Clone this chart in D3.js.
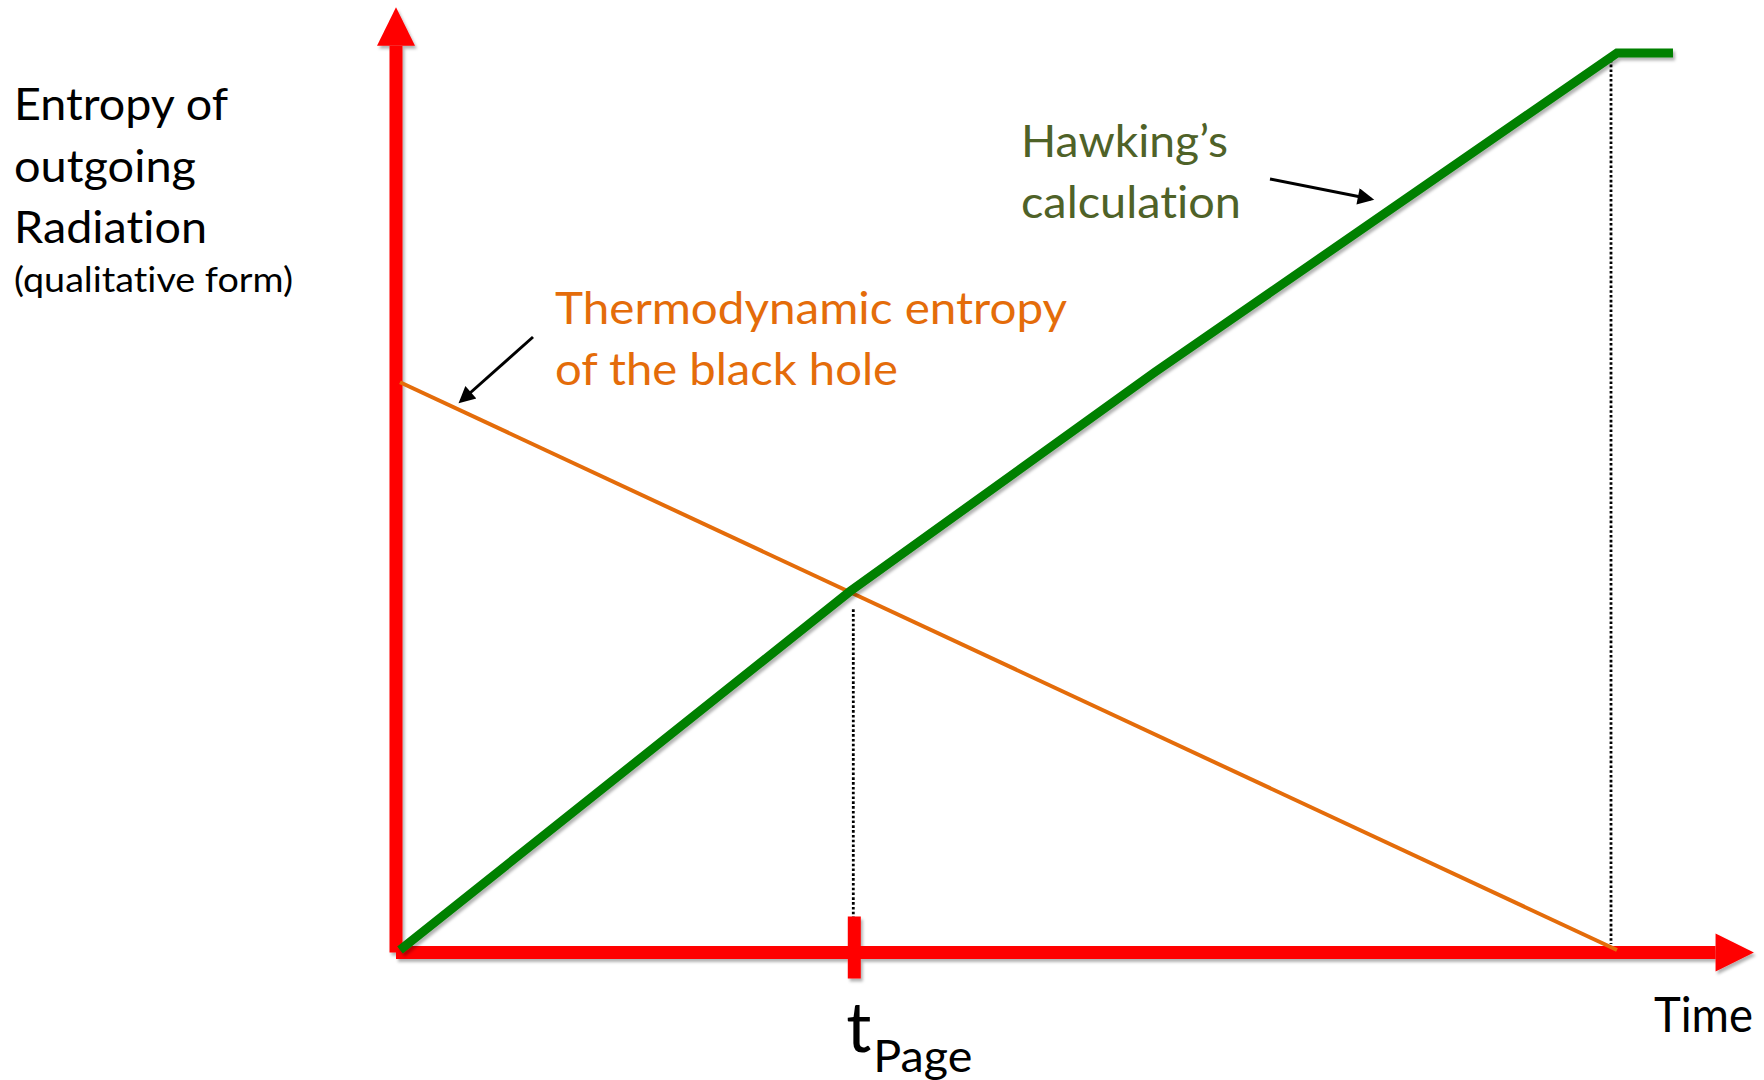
<!DOCTYPE html>
<html>
<head>
<meta charset="utf-8">
<script src="https://cdn.jsdelivr.net/npm/d3@7"></script>
<style>
    body { margin: 0; background: #fff; }
    svg { display: block; font-family: Lato, 'Open Sans', sans-serif; }
    text { font-variant-ligatures: none; font-feature-settings: 'liga' 0, 'clig' 0; }
</style>
</head>
<body>
<svg id="chart" width="1764" height="1080"></svg>
<script>
'use strict';

// time in arbitrary units, t = 100 is when the hole is gone
const hawkingTime = [0, 37, 62, 100, 104.6];
const hawkingEntropy = [0, 40, 64.4, 100, 100];
const thermoTime = [0, 100];
const thermoEntropy = [63.3, 0];
const tPage = 37;

const yLabelLines = ['Entropy of', 'outgoing', 'Radiation'];
const yLabelNote = '(qualitative form)';
const hawkingLabel = ['Hawking\u2019s', 'calculation'];
const thermoLabel = ['Thermodynamic entropy', 'of the black hole'];
const xLabel = 'Time';

const RED = '#ff0000';
const GREEN = '#008000';
const ORANGE = '#e46c0a';
const OLIVE = '#4f6228';

ready();

function ready() {
    const svg = d3.select('#chart');
    const x = d3.scaleLinear().domain([0, 100]).range([400, 1617]);
    const y = d3.scaleLinear().domain([0, 100]).range([950, 53]);

    defs(svg);
    guides(svg, x, y);
    axes(svg, x, y);
    curves(svg, x, y);
    labels(svg, x, y);
}

function defs(svg) {
    const d = svg.append('defs');

    d.append('filter')
        .attr('id', 'shadow')
        .attr('x', '-5%').attr('y', '-5%')
        .attr('width', '110%').attr('height', '110%')
        .append('feDropShadow')
        .attr('dx', 2).attr('dy', 3)
        .attr('stdDeviation', 1.5)
        .attr('flood-color', '#000')
        .attr('flood-opacity', 0.3);

    d.append('marker')
        .attr('id', 'head')
        .attr('viewBox', '0 0 10 10')
        .attr('refX', 8).attr('refY', 5)
        .attr('markerWidth', 6).attr('markerHeight', 5.5)
        .attr('markerUnits', 'strokeWidth')
        .attr('orient', 'auto')
        .append('path')
        .attr('d', 'M0,0 L10,5 L0,10 Z')
        .attr('fill', '#000');
}

function guides(svg, x, y) {
    const dotted = svg.append('g')
        .attr('stroke', '#000')
        .attr('stroke-width', 2.8)
        .attr('stroke-dasharray', '2.6,2.2');

    // end of evaporation
    dotted.append('line')
        .attr('x1', x(100) - 6).attr('x2', x(100) - 6)
        .attr('y1', y(100) + 2).attr('y2', y(0) - 6);

    // Page time
    dotted.append('line')
        .attr('x1', x(tPage) + 3).attr('x2', x(tPage) + 3)
        .attr('y1', y(thermoEntropy[0] * (1 - tPage / 100)) + 17)
        .attr('y2', y(0) + 8);
}

function axes(svg, x, y) {
    const g = svg.append('g')
        .attr('fill', RED)
        .attr('filter', 'url(#shadow)');

    const ox = x(0) - 4;
    const oy = y(0) + 2.5;
    const xTip = x(111.25);
    const yTip = y(105.1);

    g.append('rect')
        .attr('x', ox - 6.5).attr('y', y(100.8))
        .attr('width', 13).attr('height', oy - y(100.8));
    g.append('path')
        .attr('d', `M${ox - 19},${y(100.8)} L${ox},${yTip} L${ox + 19},${y(100.8)} Z`);

    g.append('rect')
        .attr('x', ox).attr('y', oy - 6.5)
        .attr('width', x(108.1) - ox).attr('height', 13);
    g.append('path')
        .attr('d', `M${x(108.1)},${oy - 19} L${xTip},${oy} L${x(108.1)},${oy + 19} Z`);

    // tick at the Page time
    g.append('rect')
        .attr('x', x(tPage) - 2.5).attr('y', oy - 36)
        .attr('width', 13).attr('height', 62);
}

function curves(svg, x, y) {
    const line = d3.line()
        .x(d => x(d[0]))
        .y(d => y(d[1]));

    svg.append('path')
        .datum(d3.zip(thermoTime, thermoEntropy))
        .attr('d', line)
        .attr('fill', 'none')
        .attr('stroke', ORANGE)
        .attr('stroke-width', 4);

    svg.append('path')
        .datum(d3.zip(hawkingTime, hawkingEntropy))
        .attr('d', line)
        .attr('fill', 'none')
        .attr('stroke', GREEN)
        .attr('stroke-width', 9)
        .attr('filter', 'url(#shadow)');
}

function labels(svg, x, y) {
    const yLab = svg.append('text')
        .attr('fill', '#000')
        .attr('font-size', 44);
    const yWidths = [214, 182, 193];
    yLabelLines.forEach((t, i) => {
        yLab.append('tspan')
            .attr('x', 14).attr('y', 120 + i * 61.5)
            .attr('textLength', yWidths[i])
            .attr('lengthAdjust', 'spacingAndGlyphs')
            .text(t);
    });
    svg.append('text')
        .attr('x', 14).attr('y', 292)
        .attr('font-size', 34)
        .attr('textLength', 279)
        .attr('lengthAdjust', 'spacingAndGlyphs')
        .text(yLabelNote);

    const hawk = svg.append('text')
        .attr('fill', OLIVE)
        .attr('font-size', 44);
    [207, 220].forEach((w, i) => {
        hawk.append('tspan')
            .attr('x', 1021).attr('y', 157 + i * 61)
            .attr('textLength', w)
            .attr('lengthAdjust', 'spacingAndGlyphs')
            .text(hawkingLabel[i]);
    });

    const thermo = svg.append('text')
        .attr('fill', ORANGE)
        .attr('font-size', 45);
    [512, 343].forEach((w, i) => {
        thermo.append('tspan')
            .attr('x', 555).attr('y', 324 + i * 61)
            .attr('textLength', w)
            .attr('lengthAdjust', 'spacingAndGlyphs')
            .text(thermoLabel[i]);
    });

    arrow(svg, [1270, 179], [1371, 199]);
    arrow(svg, [533, 337], [461, 401]);

    svg.append('text')
        .attr('x', 1654).attr('y', 1032)
        .attr('font-size', 48)
        .attr('textLength', 99)
        .attr('lengthAdjust', 'spacingAndGlyphs')
        .text(xLabel);

    const page = svg.append('text').attr('fill', '#000');
    page.append('tspan')
        .attr('x', x(tPage) - 4).attr('y', 1052)
        .attr('font-size', 70)
        .text('t');
    page.append('tspan')
        .attr('x', x(tPage) + 23).attr('y', 1072)
        .attr('font-size', 44)
        .attr('textLength', 99)
        .attr('lengthAdjust', 'spacingAndGlyphs')
        .text('Page');
}

function arrow(svg, from, to) {
    svg.append('line')
        .attr('x1', from[0]).attr('y1', from[1])
        .attr('x2', to[0]).attr('y2', to[1])
        .attr('stroke', '#000')
        .attr('stroke-width', 3)
        .attr('marker-end', 'url(#head)');
}
</script>
</body>
</html>
